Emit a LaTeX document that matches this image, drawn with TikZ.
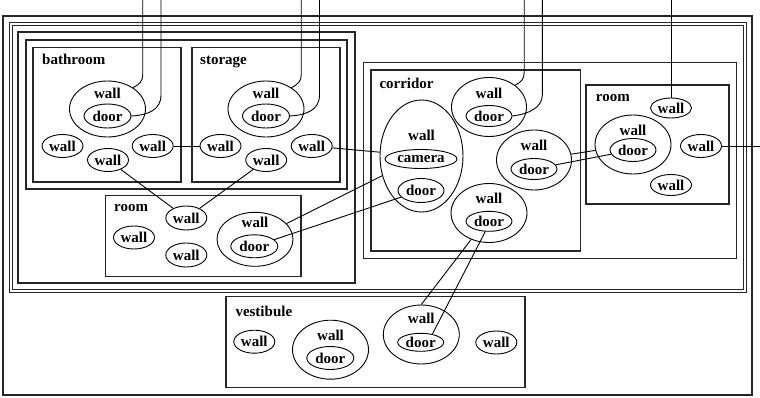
\documentclass[tikz,border=0pt]{standalone}
\usepackage{fontspec}
\setmainfont{Liberation Serif}
\usetikzlibrary{shapes.geometric}
\begin{document}
\begin{tikzpicture}[x=1pt,y=-1pt,
  cl/.style={draw=black!85,line width=1.15pt},
  el/.style={draw,ellipse,line width=0.9pt,inner sep=0pt,font=\bfseries\fontsize{15}{18}\selectfont},
  sw/.style={el,minimum width=41pt,minimum height=23pt},
  dr/.style={el,minimum width=47pt,minimum height=23pt},
  bw/.style={el,minimum width=76pt,minimum height=58pt},
  lbl/.style={font=\bfseries\fontsize{15}{18}\selectfont,inner sep=0pt},
  ttl/.style={lbl,anchor=base west},
  ed/.style={line width=0.9pt}]
\useasboundingbox (0,0) rectangle (760,398);
% clusters
\draw[cl] (3,16) rectangle (752,395);
\draw[cl] (9.3,22.3) rectangle (746.7,292.2);
\draw[cl] (12.2,25.2) rectangle (743.8,289.3);
\draw[cl] (18,32) rectangle (355,283);
\draw[cl] (26,40) rectangle (347,189);
\draw[cl] (33,47.5) rectangle (181,182);
\draw[cl] (192,47.5) rectangle (340,182);
\draw[cl] (105.7,195.7) rectangle (301,276.7);
\draw[cl] (363.3,62.3) rectangle (736.7,258.5);
\draw[cl] (371,70) rectangle (580.5,251);
\draw[cl] (586,85) rectangle (729,204);
\draw[cl] (226,296.7) rectangle (525,387.3);
% titles
\node[ttl] (tbath) at (42,65) {bathroom};
\node[ttl] (tstor) at (200,65) {storage};
\node[ttl] (tcorr) at (379.3,88.3) {corridor};
\node[ttl] (troomr) at (595.7,101.7) {room};
\node[ttl] (trooml) at (114,211.7) {room};
\node[ttl] (tvest) at (235.3,316) {vestibule};
% bathroom
\node[bw,minimum height=56pt] (bW) at (107.5,109) {};
\node[lbl] (bWl) at (107.5,93.5) {wall};
\node[dr,minimum height=24pt] (bD) at (107.5,116) {door};
\node[sw] (bw1) at (62.5,146) {wall};
\node[sw] (bw2) at (152.7,146) {wall};
\node[sw] (bw3) at (108,160) {wall};
% storage
\node[bw,minimum height=56pt] (sW) at (266,109) {};
\node[lbl] (sWl) at (266,93.5) {wall};
\node[dr,minimum height=24pt] (sD) at (266,116) {door};
\node[sw] (sw1) at (220.5,146) {wall};
\node[sw] (sw2) at (311.7,146) {wall};
\node[sw] (sw3) at (266.2,160) {wall};
% left room
\node[sw,minimum height=24pt] (rw1) at (186.3,218) {wall};
\node[sw] (rw2) at (134,237.5) {wall};
\node[sw,minimum height=24pt] (rw3) at (186.3,255) {wall};
\node[bw,minimum height=54pt] (rW) at (255,239.3) {};
\node[lbl] (rWl) at (255,222) {wall};
\node[dr] (rD) at (254.3,246.3) {door};
% corridor
\node[bw,minimum width=75pt,minimum height=59pt] (cT) at (489,107) {};
\node[lbl] (cTl) at (489,93) {wall};
\node[dr,minimum width=46pt,minimum height=21pt] (cTd) at (489,116) {door};
\node[el,minimum width=83pt,minimum height=112pt] (cam) at (421.5,156) {};
\node[lbl] (caml) at (421.5,135) {wall};
\node[el,minimum width=72pt,minimum height=19pt] (camIn) at (421,159) {camera};
\node[dr,minimum width=46pt,minimum height=24pt] (camD) at (421,190.5) {door};
\node[bw,minimum width=75pt,minimum height=60pt] (cR) at (534,160) {};
\node[lbl] (cRl) at (534,145.7) {wall};
\node[dr,minimum width=46pt,minimum height=21pt] (cRd) at (534,169) {door};
\node[bw,minimum height=59pt] (cB) at (489,213) {};
\node[lbl] (cBl) at (489,198.3) {wall};
\node[dr,minimum width=46pt,minimum height=20pt] (cBd) at (489,221.3) {door};
% right room
\node[sw,minimum height=20pt] (qw1) at (671,108) {wall};
\node[bw,minimum height=59pt] (qW) at (633,144.5) {};
\node[lbl] (qWl) at (633,130) {wall};
\node[dr,minimum width=46pt] (qD) at (633,150) {door};
\node[sw] (qw2) at (701,146) {wall};
\node[sw,minimum height=21pt] (qw3) at (671,185) {wall};
% vestibule
\node[sw] (vw1) at (254.3,341.7) {wall};
\node[bw,minimum height=59pt] (vW) at (330.5,349.7) {};
\node[lbl] (vWl) at (330.5,335) {wall};
\node[dr] (vD) at (330.3,358) {door};
\node[bw,minimum height=59pt] (vW2) at (421.3,334.5) {};
\node[lbl] (vW2l) at (421.3,318.3) {wall};
\node[dr,minimum width=46pt,minimum height=18pt] (vD2) at (420.7,342.3) {door};
\node[sw] (vw2) at (496.3,342.5) {wall};
% free ends
\coordinate (tb1) at (142.7,0);
\coordinate (tb2) at (161,0);
\coordinate (ts1) at (301.2,0);
\coordinate (ts2) at (319.5,0);
\coordinate (tc1) at (524.2,0);
\coordinate (tc2) at (542.3,0);
\coordinate (tr) at (671,0);
\coordinate (er) at (760,146);
% top edges
\draw[ed] (tb1) -- (142.7,75) .. controls (142.7,81) and (140,84) .. (bW.40);
\draw[ed] (tb2) -- (161,95) .. controls (161,110) and (148,115) .. (bD.east);
\draw[ed] (ts1) -- (301.2,75) .. controls (301.2,81) and (298.5,84) .. (sW.40);
\draw[ed] (ts2) -- (319.5,95) .. controls (319.5,110) and (306.5,115) .. (sD.east);
\draw[ed] (tc1) -- (524.2,72) .. controls (524.2,79) and (521.5,82) .. (cT.40);
\draw[ed] (tc2) -- (542.3,95) .. controls (542.3,108) and (528,114) .. (cTd.east);
\draw[ed] (tr) -- (qw1);
\draw[ed] (qw2) -- (er);
% inner edges
\draw[ed] (bw2) -- (sw1);
\draw[ed] (bw3) -- (rw1);
\draw[ed] (sw3) -- (rw1);
\draw[ed] (sw2) -- (cam);
\draw[ed] (rW) -- (cam);
\draw[ed] (rD) -- (camD);
\draw[ed] (cR) -- (qW);
\draw[ed] (cRd) -- (qD);
\draw[ed] (cB.236) -- (vW2.north);
\draw[ed] (cBd.250) -- (vD2.35);
\end{tikzpicture}
\end{document}
